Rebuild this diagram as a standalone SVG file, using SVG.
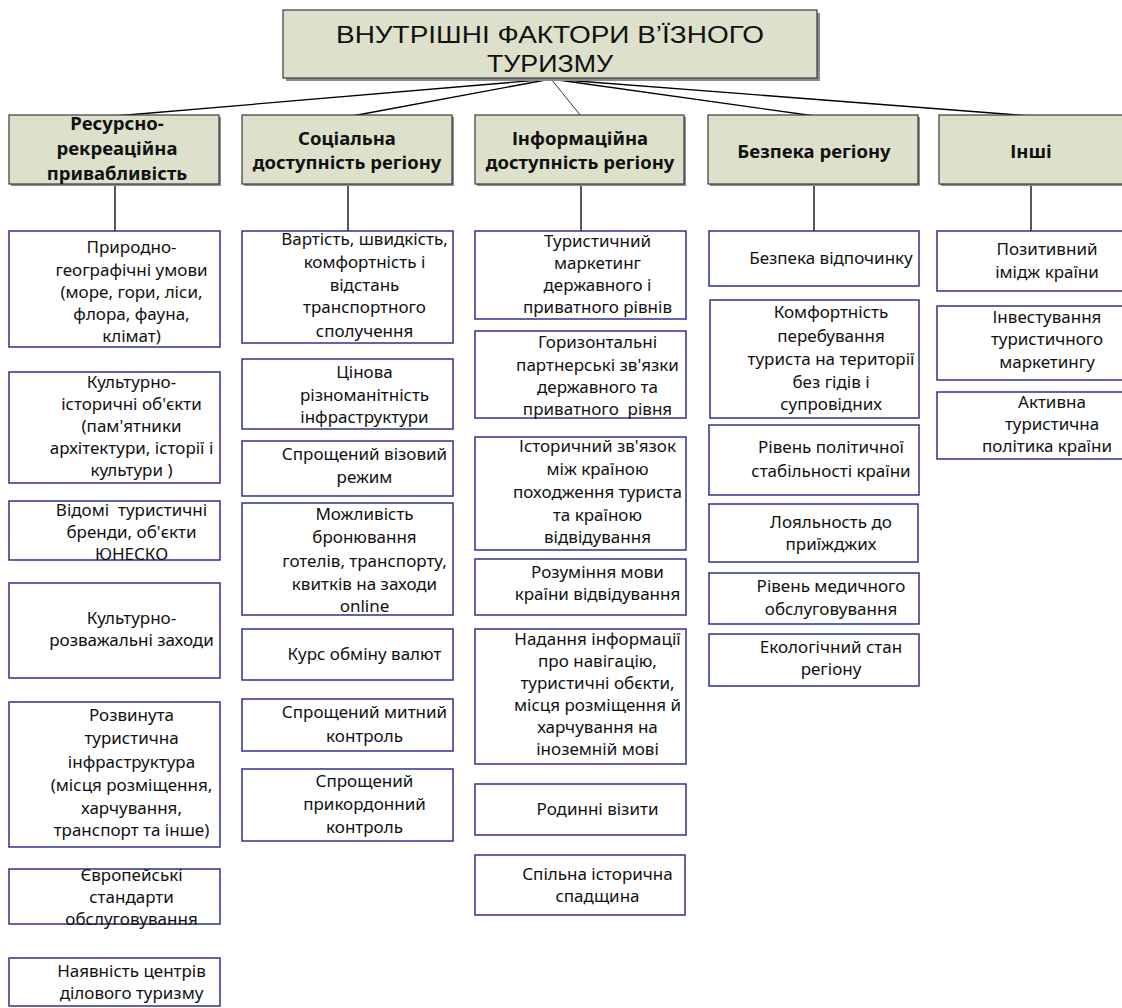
<svg xmlns="http://www.w3.org/2000/svg" width="1122" height="1008" viewBox="0 0 1122 1008">
<style>
.f{fill:#dde1cb;stroke:#3a3a3a;stroke-width:1.2}
.sh{fill:#8c8c8c}
.it rect{fill:#fff;stroke:#2e3190;stroke-width:1.5}
.t{font-family:"Noto Sans","DejaVu Sans",sans-serif;font-size:17px;fill:#111;text-anchor:middle}
.h{font-family:"Noto Sans","DejaVu Sans",sans-serif;font-size:18.5px;font-weight:bold;fill:#111;text-anchor:middle}
.ti{font-family:"Liberation Sans",Arial,sans-serif;font-size:24px;fill:#111;text-anchor:middle}
.c line{stroke:#000;stroke-width:1.3}
.c line.thin{stroke-width:0.8}
</style>
<rect width="1122" height="1008" fill="#fff"/>
<g id="connectors" class="c">
<line x1="551" y1="79" x2="115" y2="116"/>
<line x1="551" y1="79" x2="352" y2="116"/>
<line class="thin" x1="551" y1="79" x2="581" y2="116"/>
<line x1="551" y1="79" x2="815" y2="116"/>
<line x1="551" y1="79" x2="1031" y2="116"/>
<line x1="115" y1="184" x2="115" y2="231"/>
<line x1="348" y1="184" x2="348" y2="231"/>
<line x1="581" y1="184" x2="581" y2="231"/>
<line x1="814" y1="184" x2="814" y2="231"/>
<line x1="1031" y1="184" x2="1031" y2="231"/>
</g>
<g id="title">
<rect class="sh" x="286" y="13" width="534" height="68"/>
<rect class="f" x="283" y="10" width="534" height="68"/>
<text class="ti"><tspan x="550" y="43" textLength="428" lengthAdjust="spacingAndGlyphs">ВНУТРІШНІ ФАКТОРИ В’ЇЗНОГО</tspan><tspan x="550" y="72" textLength="126" lengthAdjust="spacingAndGlyphs">ТУРИЗМУ</tspan></text>
</g>
<g id="h1"><rect class="sh" x="11" y="117" width="210" height="69"/><rect class="f" x="9" y="115" width="210" height="69"/>
<text class="h"><tspan x="117" y="130">Ресурсно-</tspan><tspan x="117" y="155">рекреаційна</tspan><tspan x="117" y="180">привабливість</tspan></text></g>
<g id="h2"><rect class="sh" x="244" y="117" width="210" height="69"/><rect class="f" x="242" y="115" width="210" height="69"/>
<text class="h"><tspan x="347" y="145">Соціальна</tspan><tspan x="347" y="169">доступність регіону</tspan></text></g>
<g id="h3"><rect class="sh" x="477" y="117" width="209" height="69"/><rect class="f" x="475" y="115" width="209" height="69"/>
<text class="h"><tspan x="580" y="145">Інформаційна</tspan><tspan x="580" y="169">доступність регіону</tspan></text></g>
<g id="h4"><rect class="sh" x="710" y="117" width="210" height="69"/><rect class="f" x="708" y="115" width="210" height="69"/>
<text class="h"><tspan x="814" y="158">Безпека регіону</tspan></text></g>
<g id="h5"><rect class="sh" x="941" y="117" width="185" height="69"/><rect class="f" x="939" y="115" width="185" height="69"/>
<text class="h"><tspan x="1031" y="158">Інші</tspan></text></g>

<g id="a1" class="it"><rect x="9" y="231" width="211" height="116"/>
<text class="t"><tspan x="131.5" y="253">Природно-</tspan><tspan x="131.5" y="276">географічні умови</tspan><tspan x="131.5" y="298">(море, гори, ліси,</tspan><tspan x="131.5" y="320">флора, фауна,</tspan><tspan x="131.5" y="342">клімат)</tspan></text></g>
<g id="a2" class="it"><rect x="9" y="372" width="211" height="111"/>
<text class="t"><tspan x="131.5" y="388">Культурно-</tspan><tspan x="131.5" y="410">історичні об'єкти</tspan><tspan x="131.5" y="432">(пам'ятники</tspan><tspan x="131.5" y="454">архітектури, історії і</tspan><tspan x="131.5" y="476">культури )</tspan></text></g>
<g id="a3" class="it"><rect x="9" y="501" width="211" height="59"/>
<text class="t" xml:space="preserve"><tspan x="131.5" y="516">Відомі  туристичні</tspan><tspan x="131.5" y="538">бренди, об'єкти</tspan><tspan x="131.5" y="560">ЮНЕСКО</tspan></text></g>
<g id="a4" class="it"><rect x="9" y="583" width="211" height="95"/>
<text class="t"><tspan x="131.5" y="624">Культурно-</tspan><tspan x="131.5" y="646">розважальні заходи</tspan></text></g>
<g id="a5" class="it"><rect x="9" y="702" width="211" height="145"/>
<text class="t"><tspan x="131.5" y="721">Розвинута</tspan><tspan x="131.5" y="744">туристична</tspan><tspan x="131.5" y="768">інфраструктура</tspan><tspan x="131.5" y="791">(місця розміщення,</tspan><tspan x="131.5" y="814">харчування,</tspan><tspan x="131.5" y="836">транспорт та інше)</tspan></text></g>
<g id="a6" class="it"><rect x="9" y="869" width="211" height="55"/>
<text class="t"><tspan x="131.5" y="881">Європейські</tspan><tspan x="131.5" y="903">стандарти</tspan><tspan x="131.5" y="925">обслуговування</tspan></text></g>
<g id="a7" class="it"><rect x="9" y="958" width="211" height="48"/>
<text class="t"><tspan x="131.5" y="977">Наявність центрів</tspan><tspan x="131.5" y="999">ділового туризму</tspan></text></g>

<g id="b1" class="it"><rect x="242" y="231" width="211" height="112"/>
<text class="t"><tspan x="364.5" y="245">Вартість, швидкість,</tspan><tspan x="364.5" y="268">комфортність і</tspan><tspan x="364.5" y="291">відстань</tspan><tspan x="364.5" y="313">транспортного</tspan><tspan x="364.5" y="337">сполучення</tspan></text></g>
<g id="b2" class="it"><rect x="242" y="359" width="211" height="70"/>
<text class="t"><tspan x="364.5" y="378">Цінова</tspan><tspan x="364.5" y="401">різноманітність</tspan><tspan x="364.5" y="423">інфраструктури</tspan></text></g>
<g id="b3" class="it"><rect x="242" y="441" width="211" height="55"/>
<text class="t"><tspan x="364.5" y="460">Спрощений візовий</tspan><tspan x="364.5" y="483">режим</tspan></text></g>
<g id="b4" class="it"><rect x="242" y="503" width="211" height="112"/>
<text class="t"><tspan x="364.5" y="520">Можливість</tspan><tspan x="364.5" y="543">бронювання</tspan><tspan x="364.5" y="567">готелів, транспорту,</tspan><tspan x="364.5" y="590">квитків на заходи</tspan><tspan x="364.5" y="612">online</tspan></text></g>
<g id="b5" class="it"><rect x="242" y="629" width="211" height="51"/>
<text class="t"><tspan x="364.5" y="660">Курс обміну валют</tspan></text></g>
<g id="b6" class="it"><rect x="242" y="699" width="211" height="52"/>
<text class="t"><tspan x="364.5" y="718">Спрощений митний</tspan><tspan x="364.5" y="742">контроль</tspan></text></g>
<g id="b7" class="it"><rect x="242" y="769" width="211" height="72"/>
<text class="t"><tspan x="364.5" y="787">Спрощений</tspan><tspan x="364.5" y="810">прикордонний</tspan><tspan x="364.5" y="833">контроль</tspan></text></g>

<g id="c1" class="it"><rect x="475" y="231" width="211" height="88"/>
<text class="t"><tspan x="597.5" y="247">Туристичний</tspan><tspan x="597.5" y="269">маркетинг</tspan><tspan x="597.5" y="291">державного і</tspan><tspan x="597.5" y="313">приватного рівнів</tspan></text></g>
<g id="c2" class="it"><rect x="475" y="331" width="211" height="87"/>
<text class="t" xml:space="preserve"><tspan x="597.5" y="348">Горизонтальні</tspan><tspan x="597.5" y="371">партнерські зв'язки</tspan><tspan x="597.5" y="393">державного та</tspan><tspan x="597.5" y="415">приватного  рівня</tspan></text></g>
<g id="c3" class="it"><rect x="475" y="437" width="211" height="113"/>
<text class="t"><tspan x="597.5" y="452">Історичний зв'язок</tspan><tspan x="597.5" y="475">між країною</tspan><tspan x="597.5" y="498">походження туриста</tspan><tspan x="597.5" y="521">та країною</tspan><tspan x="597.5" y="543">відвідування</tspan></text></g>
<g id="c4" class="it"><rect x="475" y="559" width="211" height="56"/>
<text class="t"><tspan x="597.5" y="578">Розуміння мови</tspan><tspan x="597.5" y="600">країни відвідування</tspan></text></g>
<g id="c5" class="it"><rect x="475" y="629" width="211" height="135"/>
<text class="t"><tspan x="597.5" y="645">Надання інформації</tspan><tspan x="597.5" y="667">про навігацію,</tspan><tspan x="597.5" y="689">туристичні обєкти,</tspan><tspan x="597.5" y="711">місця розміщення й</tspan><tspan x="597.5" y="733">харчування на</tspan><tspan x="597.5" y="755">іноземній мові</tspan></text></g>
<g id="c6" class="it"><rect x="475" y="784" width="211" height="51"/>
<text class="t"><tspan x="597.5" y="815">Родинні візити</tspan></text></g>
<g id="c7" class="it"><rect x="475" y="855" width="210" height="60"/>
<text class="t"><tspan x="597.5" y="880">Спільна історична</tspan><tspan x="597.5" y="902">спадщина</tspan></text></g>

<g id="d1" class="it"><rect x="709" y="231" width="210" height="55"/>
<text class="t"><tspan x="831" y="264">Безпека відпочинку</tspan></text></g>
<g id="d2" class="it"><rect x="710" y="300" width="209" height="118"/>
<text class="t"><tspan x="831" y="318">Комфортність</tspan><tspan x="831" y="342">перебування</tspan><tspan x="831" y="365">туриста на території</tspan><tspan x="831" y="388">без гідів і</tspan><tspan x="831" y="410">супровідних</tspan></text></g>
<g id="d3" class="it"><rect x="709" y="425" width="210" height="70"/>
<text class="t"><tspan x="831" y="453">Рівень політичної</tspan><tspan x="831" y="477">стабільності країни</tspan></text></g>
<g id="d4" class="it"><rect x="709" y="504" width="209" height="58"/>
<text class="t"><tspan x="831" y="528">Лояльность до</tspan><tspan x="831" y="550">приїжджих</tspan></text></g>
<g id="d5" class="it"><rect x="709" y="573" width="210" height="51"/>
<text class="t"><tspan x="831" y="592">Рівень медичного</tspan><tspan x="831" y="615">обслуговування</tspan></text></g>
<g id="d6" class="it"><rect x="709" y="634" width="210" height="52"/>
<text class="t"><tspan x="831" y="653">Екологічний стан</tspan><tspan x="831" y="675">регіону</tspan></text></g>

<g id="e1" class="it"><rect x="937" y="231" width="187" height="60"/>
<text class="t"><tspan x="1047" y="255">Позитивний</tspan><tspan x="1047" y="278">імідж країни</tspan></text></g>
<g id="e2" class="it"><rect x="937" y="306" width="187" height="74"/>
<text class="t"><tspan x="1047" y="323">Інвестування</tspan><tspan x="1047" y="345">туристичного</tspan><tspan x="1047" y="368">маркетингу</tspan></text></g>
<g id="e3" class="it"><rect x="937" y="392" width="187" height="67"/>
<text class="t"><tspan x="1052" y="408">Активна</tspan><tspan x="1052" y="430">туристична</tspan><tspan x="1047" y="452">політика країни</tspan></text></g>
</svg>
